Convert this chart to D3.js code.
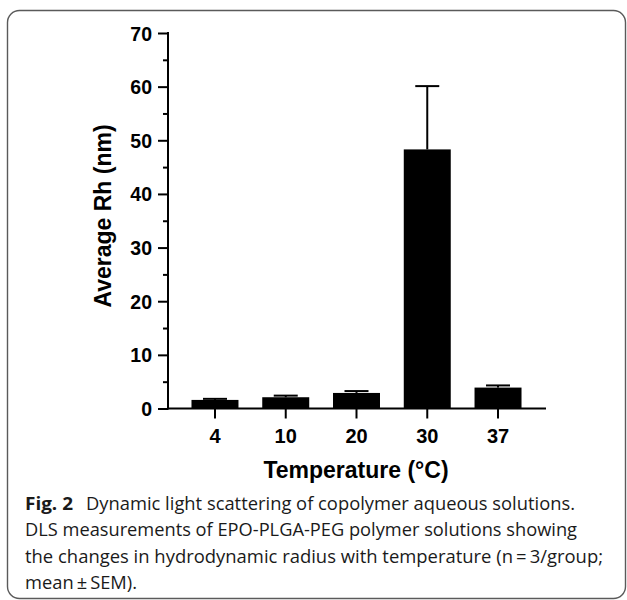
<!DOCTYPE html>
<html>
<head>
<meta charset="utf-8">
<script src="https://cdn.jsdelivr.net/npm/d3@7"></script>
<style>
  html, body { margin: 0; padding: 0; background: #fff; }
  svg { display: block; }
</style>
</head>
<body>
<svg id="chart" width="627" height="600"></svg>
<script>
// ---- data ----
const categories = ["4", "10", "20", "30", "37"];
const meanRh = [1.6, 2.1, 2.9, 48.3, 3.9];
const semRh = [0.2, 0.3, 0.35, 11.8, 0.4];
const yTicks = [0, 10, 20, 30, 40, 50, 60, 70];
const yMinorTicks = [5, 15, 25, 35, 45, 55, 65];
const xTitle = "Temperature (°C)";
const yTitle = "Average Rh (nm)";
const captionBold = "Fig. 2";
const captionLines = [
  "Dynamic light scattering of copolymer aqueous solutions.",
  "DLS measurements of EPO-PLGA-PEG polymer solutions showing",
  "the changes in hydrodynamic radius with temperature (n\u2009=\u20093/group;",
  "mean\u2009\u00b1\u2009SEM)."
];

const svg = d3.select("#chart");

// frame
svg.append("rect")
  .attr("x", 7.5).attr("y", 10.5)
  .attr("width", 618).attr("height", 588)
  .attr("rx", 12).attr("ry", 12)
  .attr("fill", "none").attr("stroke", "#5a5a5a").attr("stroke-width", 1.4);

const axisX0 = 168, axisX1 = 546;
const y = d3.scaleLinear().domain([0, 70]).range([408.5, 33]);
const x = d3.scaleBand().domain(categories).range([179.6, 533.4])
  .paddingInner(0.336).paddingOuter(0.168);

const g = svg.append("g");

// bars
g.selectAll("rect.bar").data(categories).enter().append("rect")
  .attr("class", "bar")
  .attr("x", d => x(d))
  .attr("width", x.bandwidth())
  .attr("y", (d, i) => y(meanRh[i]))
  .attr("height", (d, i) => y(0) - y(meanRh[i]))
  .attr("fill", "#000");

// error bars (upper only)
const capW = 24;
categories.forEach((c, i) => {
  const cx = x(c) + x.bandwidth() / 2;
  g.append("line")
    .attr("x1", cx).attr("x2", cx)
    .attr("y1", y(meanRh[i])).attr("y2", y(meanRh[i] + semRh[i]))
    .attr("stroke", "#000").attr("stroke-width", 2);
  g.append("line")
    .attr("x1", cx - capW / 2).attr("x2", cx + capW / 2)
    .attr("y1", y(meanRh[i] + semRh[i])).attr("y2", y(meanRh[i] + semRh[i]))
    .attr("stroke", "#000").attr("stroke-width", 2);
});

// y axis
const yAxis = d3.axisLeft(y).tickValues(yTicks).tickSize(10).tickPadding(6)
  .tickFormat(d3.format("d"));
const yG = svg.append("g").attr("transform", `translate(${axisX0},0)`).call(yAxis);
yG.select(".domain").remove();
yG.selectAll(".tick line").attr("stroke", "#000").attr("stroke-width", 2);
yG.selectAll(".tick text")
  .attr("font-family", "Liberation Sans, Arial, sans-serif")
  .attr("font-weight", "bold").attr("font-size", 19.5).attr("fill", "#000")
  .attr("dy", "0.36em");
const yMinor = d3.axisLeft(y).tickValues(yMinorTicks).tickSize(5).tickFormat("");
const yMG = svg.append("g").attr("transform", `translate(${axisX0},0)`).call(yMinor);
yMG.select(".domain").remove();
yMG.selectAll(".tick line").attr("stroke", "#000").attr("stroke-width", 2);
svg.append("line")
  .attr("x1", axisX0).attr("x2", axisX0)
  .attr("y1", y(70) - 1).attr("y2", y(0) + 1)
  .attr("stroke", "#000").attr("stroke-width", 2);

// x axis
const xAxis = d3.axisBottom(x).tickSize(10).tickPadding(10);
const xG = svg.append("g").attr("transform", `translate(0,${y(0)})`).call(xAxis);
xG.select(".domain").remove();
xG.selectAll(".tick line").attr("stroke", "#000").attr("stroke-width", 2);
xG.selectAll(".tick text")
  .attr("font-family", "Liberation Sans, Arial, sans-serif")
  .attr("font-weight", "bold").attr("font-size", 20).attr("fill", "#000");
svg.append("line")
  .attr("x1", axisX0 - 1).attr("x2", axisX1)
  .attr("y1", y(0)).attr("y2", y(0))
  .attr("stroke", "#000").attr("stroke-width", 2);

// axis titles
svg.append("text")
  .attr("x", 356).attr("y", 478)
  .attr("text-anchor", "middle")
  .attr("font-family", "Liberation Sans, Arial, sans-serif")
  .attr("font-weight", "bold").attr("font-size", 23).attr("fill", "#000")
  .text(xTitle);
svg.append("text")
  .attr("transform", "translate(111,216) rotate(-90)")
  .attr("text-anchor", "middle")
  .attr("font-family", "Liberation Sans, Arial, sans-serif")
  .attr("font-weight", "bold").attr("font-size", 23).attr("fill", "#000")
  .text(yTitle);

// caption
const capFont = "Open Sans, Noto Sans, sans-serif";
const capSize = 18.5;
const baselines = [509.5, 536, 562.5, 589];
const lineStart = [86, 25, 25, 25];
const lineEnd = [575, 577, 603, 137];
svg.append("text").attr("x", 25).attr("y", baselines[0])
  .attr("font-family", capFont).attr("font-size", capSize)
  .attr("font-weight", "bold").attr("fill", "#1a1a1a")
  .attr("textLength", 48).attr("lengthAdjust", "spacingAndGlyphs")
  .text(captionBold);
captionLines.forEach((line, i) => {
  svg.append("text").attr("x", lineStart[i]).attr("y", baselines[i])
    .attr("font-family", capFont).attr("font-size", capSize).attr("fill", "#1a1a1a")
    .attr("textLength", lineEnd[i] - lineStart[i])
    .attr("lengthAdjust", "spacingAndGlyphs")
    .text(line);
});
</script>
</body>
</html>
